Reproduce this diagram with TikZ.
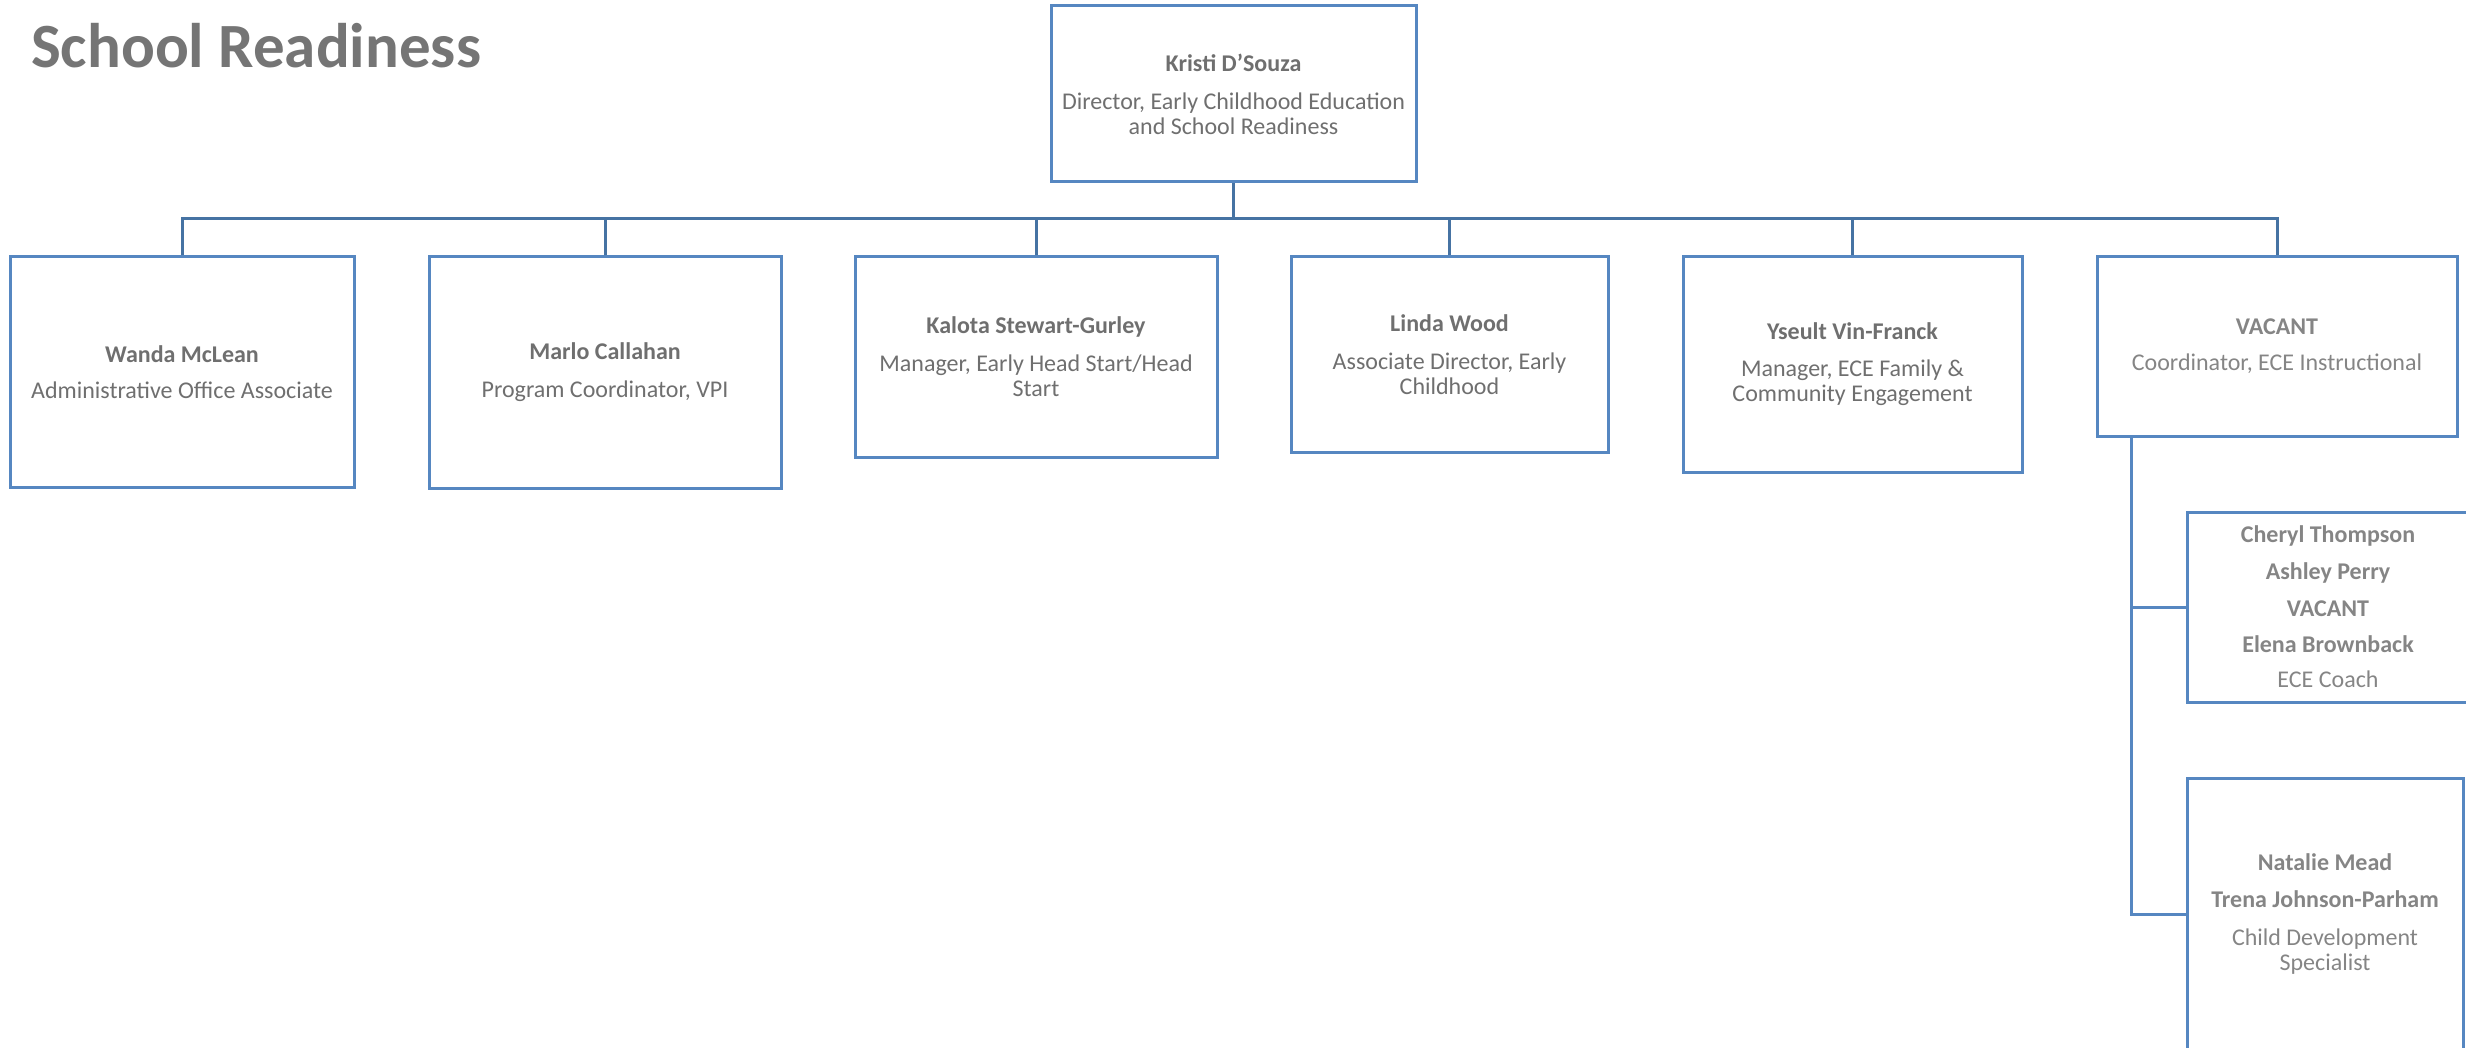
\documentclass[tikz,border=0pt]{standalone}
\usepackage{fontspec}
\setmainfont{Carlito}
\usetikzlibrary{calc}
\definecolor{boxblue}{HTML}{5687C1}
\definecolor{linkblue}{HTML}{4673A3}
\definecolor{txtdark}{HTML}{6F6F6F}
\definecolor{txtlight}{HTML}{858585}
\definecolor{titlegray}{HTML}{757575}
\tikzset{
  orgbox/.style={draw=boxblue, line width=3pt, rectangle, inner sep=0pt, align=center,
    text=txtdark, font=\fontsize{24}{25}\selectfont},
  lightbox/.style={orgbox, text=txtlight},
  titletext/.style={anchor=base west, inner sep=0pt, text=titlegray,
    font=\fontsize{63}{63}\selectfont\bfseries},
  link/.style={draw=linkblue, line width=3pt},
  sublink/.style={draw=boxblue, line width=3pt}
}
\newcommand{\pname}[1]{\textbf{#1}}
\begin{document}
\begin{tikzpicture}[x=1pt,y=-1pt]
\useasboundingbox (0,0) rectangle (2466,1048);

% title
\node[titletext] (ttop) at (31,-9) {Early Childhood Education and};
\node[titletext] (tmain) at (31,68) {School Readiness};

% director
\node[orgbox, minimum width=365pt, minimum height=176pt] (dir) at (1233.5,94)
  {\pname{Kristi D’Souza}\\[13pt]Director, Early Childhood Education\\and School Readiness};

% second level
\node[orgbox, minimum width=344pt, minimum height=230pt] (wanda) at (182,372)
  {\pname{Wanda McLean}\\[11pt]Administrative Office Associate};
\node[orgbox, minimum width=352pt, minimum height=231pt] (marlo) at (605,372.5)
  {\pname{Marlo Callahan}\\[13pt]Program Coordinator, VPI};
\node[orgbox, minimum width=362pt, minimum height=200pt] (kalota) at (1036,357)
  {\pname{Kalota Stewart-Gurley}\\[13pt]Manager, Early Head Start/Head\\Start};
\node[orgbox, minimum width=317pt, minimum height=195pt] (linda) at (1449.5,354.5)
  {\pname{Linda Wood}\\[13pt]Associate Director, Early\\Childhood};
\node[orgbox, minimum width=339pt, minimum height=215pt] (yseult) at (1852.5,364.5)
  {\pname{Yseult Vin-Franck}\\[12pt]Manager, ECE Family \&\\Community Engagement};
\node[lightbox, minimum width=360pt, minimum height=179pt] (vac) at (2277,346.5)
  {\pname{VACANT}\\[11pt]Coordinator, ECE Instructional};

% third level
\node[lightbox, minimum width=282pt, minimum height=190pt] (coach) at (2328,607)
  {\pname{Cheryl Thompson}\\[12pt]\pname{Ashley Perry}\\[12pt]\pname{VACANT}\\[11pt]\pname{Elena Brownback}\\[10pt]ECE Coach};
\node[lightbox, minimum width=276pt, minimum height=272pt] (cds) at (2325,914)
  {\pname{Natalie Mead}\\[12pt]\pname{Trena Johnson-Parham}\\[13pt]Child Development\\Specialist};

% connectors
\coordinate (bus) at (1233.5,219);
\draw[link] (dir.south) -- (bus);
\draw[link] (wanda.north) |- (bus) -| (vac.north);
\draw[link] (marlo.north) |- (bus);
\draw[link] (kalota.north) |- (bus);
\draw[link] (linda.north) |- (bus);
\draw[link] (yseult.north) |- (bus);

\coordinate (rv) at ($(vac.south west)!0.1!(vac.south east)$);
\draw[sublink] (rv) |- (coach.west);
\draw[sublink] (rv) |- (cds.west);
\end{tikzpicture}
\end{document}
